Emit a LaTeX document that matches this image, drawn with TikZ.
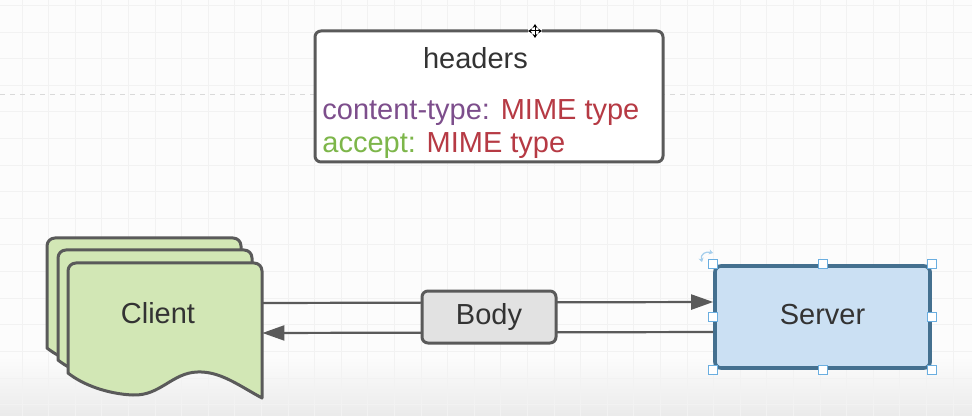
\documentclass[tikz,border=0pt]{standalone}
\usepackage{fontspec}
\setmainfont{Liberation Sans}
\usetikzlibrary{arrows.meta}

\definecolor{inkgray}{HTML}{333333}
\definecolor{edgegray}{HTML}{5A5A5A}
\definecolor{clientgreen}{HTML}{D2E7B5}
\definecolor{serverblue}{HTML}{CBE0F3}
\definecolor{serveredge}{HTML}{44708F}
\definecolor{bodygray}{HTML}{E2E2E2}
\definecolor{handleblue}{HTML}{6AAEE0}
\definecolor{hdrpurple}{HTML}{7D4E8C}
\definecolor{hdrred}{HTML}{B63A44}
\definecolor{hdrgreen}{HTML}{7DB64A}

\tikzset{
  every node/.style={font=\fontsize{14.5}{17}\selectfont, text=inkgray},
  box/.style={draw=edgegray, line width=1.5pt, rounded corners=3pt, inner sep=0pt,
    text height=10.5pt, text depth=3pt},
  doc/.style={draw=edgegray, fill=clientgreen, line width=1.5pt, line join=round},
  flow/.style={draw=edgegray, line width=1.1pt, -{Triangle[length=11pt,width=7.5pt]}},
  handle/.style={draw=handleblue, fill=white, line width=0.5pt, minimum size=4.5pt, inner sep=0pt}
}

\begin{document}
\begin{tikzpicture}[x=0.5pt, y=-0.5pt]
% 1 unit = 1 px of the 972x416 screen
\fill[white!99!black] (0,0) rectangle (972,416);
\shade[top color=white!99!black, bottom color=white!92!black] (0,355) rectangle (972,416);
\useasboundingbox (0,0) rectangle (972,416);
\foreach \i in {0,...,36} \draw[black!5, line width=0.4pt] ({22+26.6*\i},0) -- ({22+26.6*\i},416);
\foreach \j in {0,...,15} \draw[black!5, line width=0.4pt] (0,{5.5+26.6*\j}) -- (972,{5.5+26.6*\j});
\draw[black!15, line width=0.5pt, dash pattern=on 2.5pt off 2.5pt] (0,95) -- (972,95);

% headers box
\node[box, fill=white, minimum width=174pt, minimum height=65.5pt] (headers) at (489,96.5) {};
\node[anchor=base] (hdrtitle) at (475.5,69) {headers};
\node[anchor=base west, inner sep=0pt] (hdrctype) at (322,120) {\textcolor{hdrpurple}{content-type:} \textcolor{hdrred}{MIME type}};
\node[anchor=base west, inner sep=0pt] (hdraccept) at (322,153) {\textcolor{hdrgreen}{accept:} \textcolor{hdrred}{MIME type}};

% move cursor
\draw[white, line width=1.6pt] (528,31) -- (542,31) (535,24) -- (535,38);
\draw[black, line width=0.5pt, {Stealth[length=2pt,width=2.5pt]}-{Stealth[length=2pt,width=2.5pt]}] (528,31) -- (542,31);
\draw[black, line width=0.5pt, {Stealth[length=2pt,width=2.5pt]}-{Stealth[length=2pt,width=2.5pt]}] (535,24) -- (535,38);

% client stack
\foreach \dx/\dy in {47/238, 58/250, 68/263}
  \draw[doc, shift={(\dx,\dy)}] (0,110) -- (0,8) .. controls (0,3.5) and (3.5,0) .. (8,0)
    -- (186,0) .. controls (190.5,0) and (194,3.5) .. (194,8) -- (194,135)
    .. controls (170,122) and (152,108) .. (129,109)
    .. controls (104,110) and (92,133) .. (65,132)
    .. controls (40,131) and (15,122) .. (0,110) -- cycle;
\node[inner sep=0pt, minimum width=97pt, minimum height=55pt] (client) at (165,318) {};
\node[anchor=base] (clientlabel) at (158,323) {Client};

% server
\node[box, draw=serveredge, line width=1.8pt, fill=serverblue, minimum width=107.5pt, minimum height=51pt] (server) at (822.5,317) {Server};

% request / response
\draw[flow] ([yshift=7.5pt]client.east) -- ([yshift=7.5pt]server.west);
\draw[flow] ([yshift=-7.5pt]server.west) -- ([yshift=-7.5pt]client.east);
\node[box, fill=bodygray, minimum width=67pt, minimum height=26pt] (body) at (489,317) {Body};

% selection handles
\foreach \n/\a in {nw/north west, n/north, ne/north east, e/east, se/south east, s/south, sw/south west, w/west}
  \node[handle] (h\n) at (server.\a) {};
\draw[handleblue!60, line width=0.6pt, {Stealth[length=2pt,width=2.5pt]}-{Stealth[length=2pt,width=2.5pt]}] (702,262) .. controls (700,254) and (706,251) .. (713,253);
\end{tikzpicture}
\end{document}
